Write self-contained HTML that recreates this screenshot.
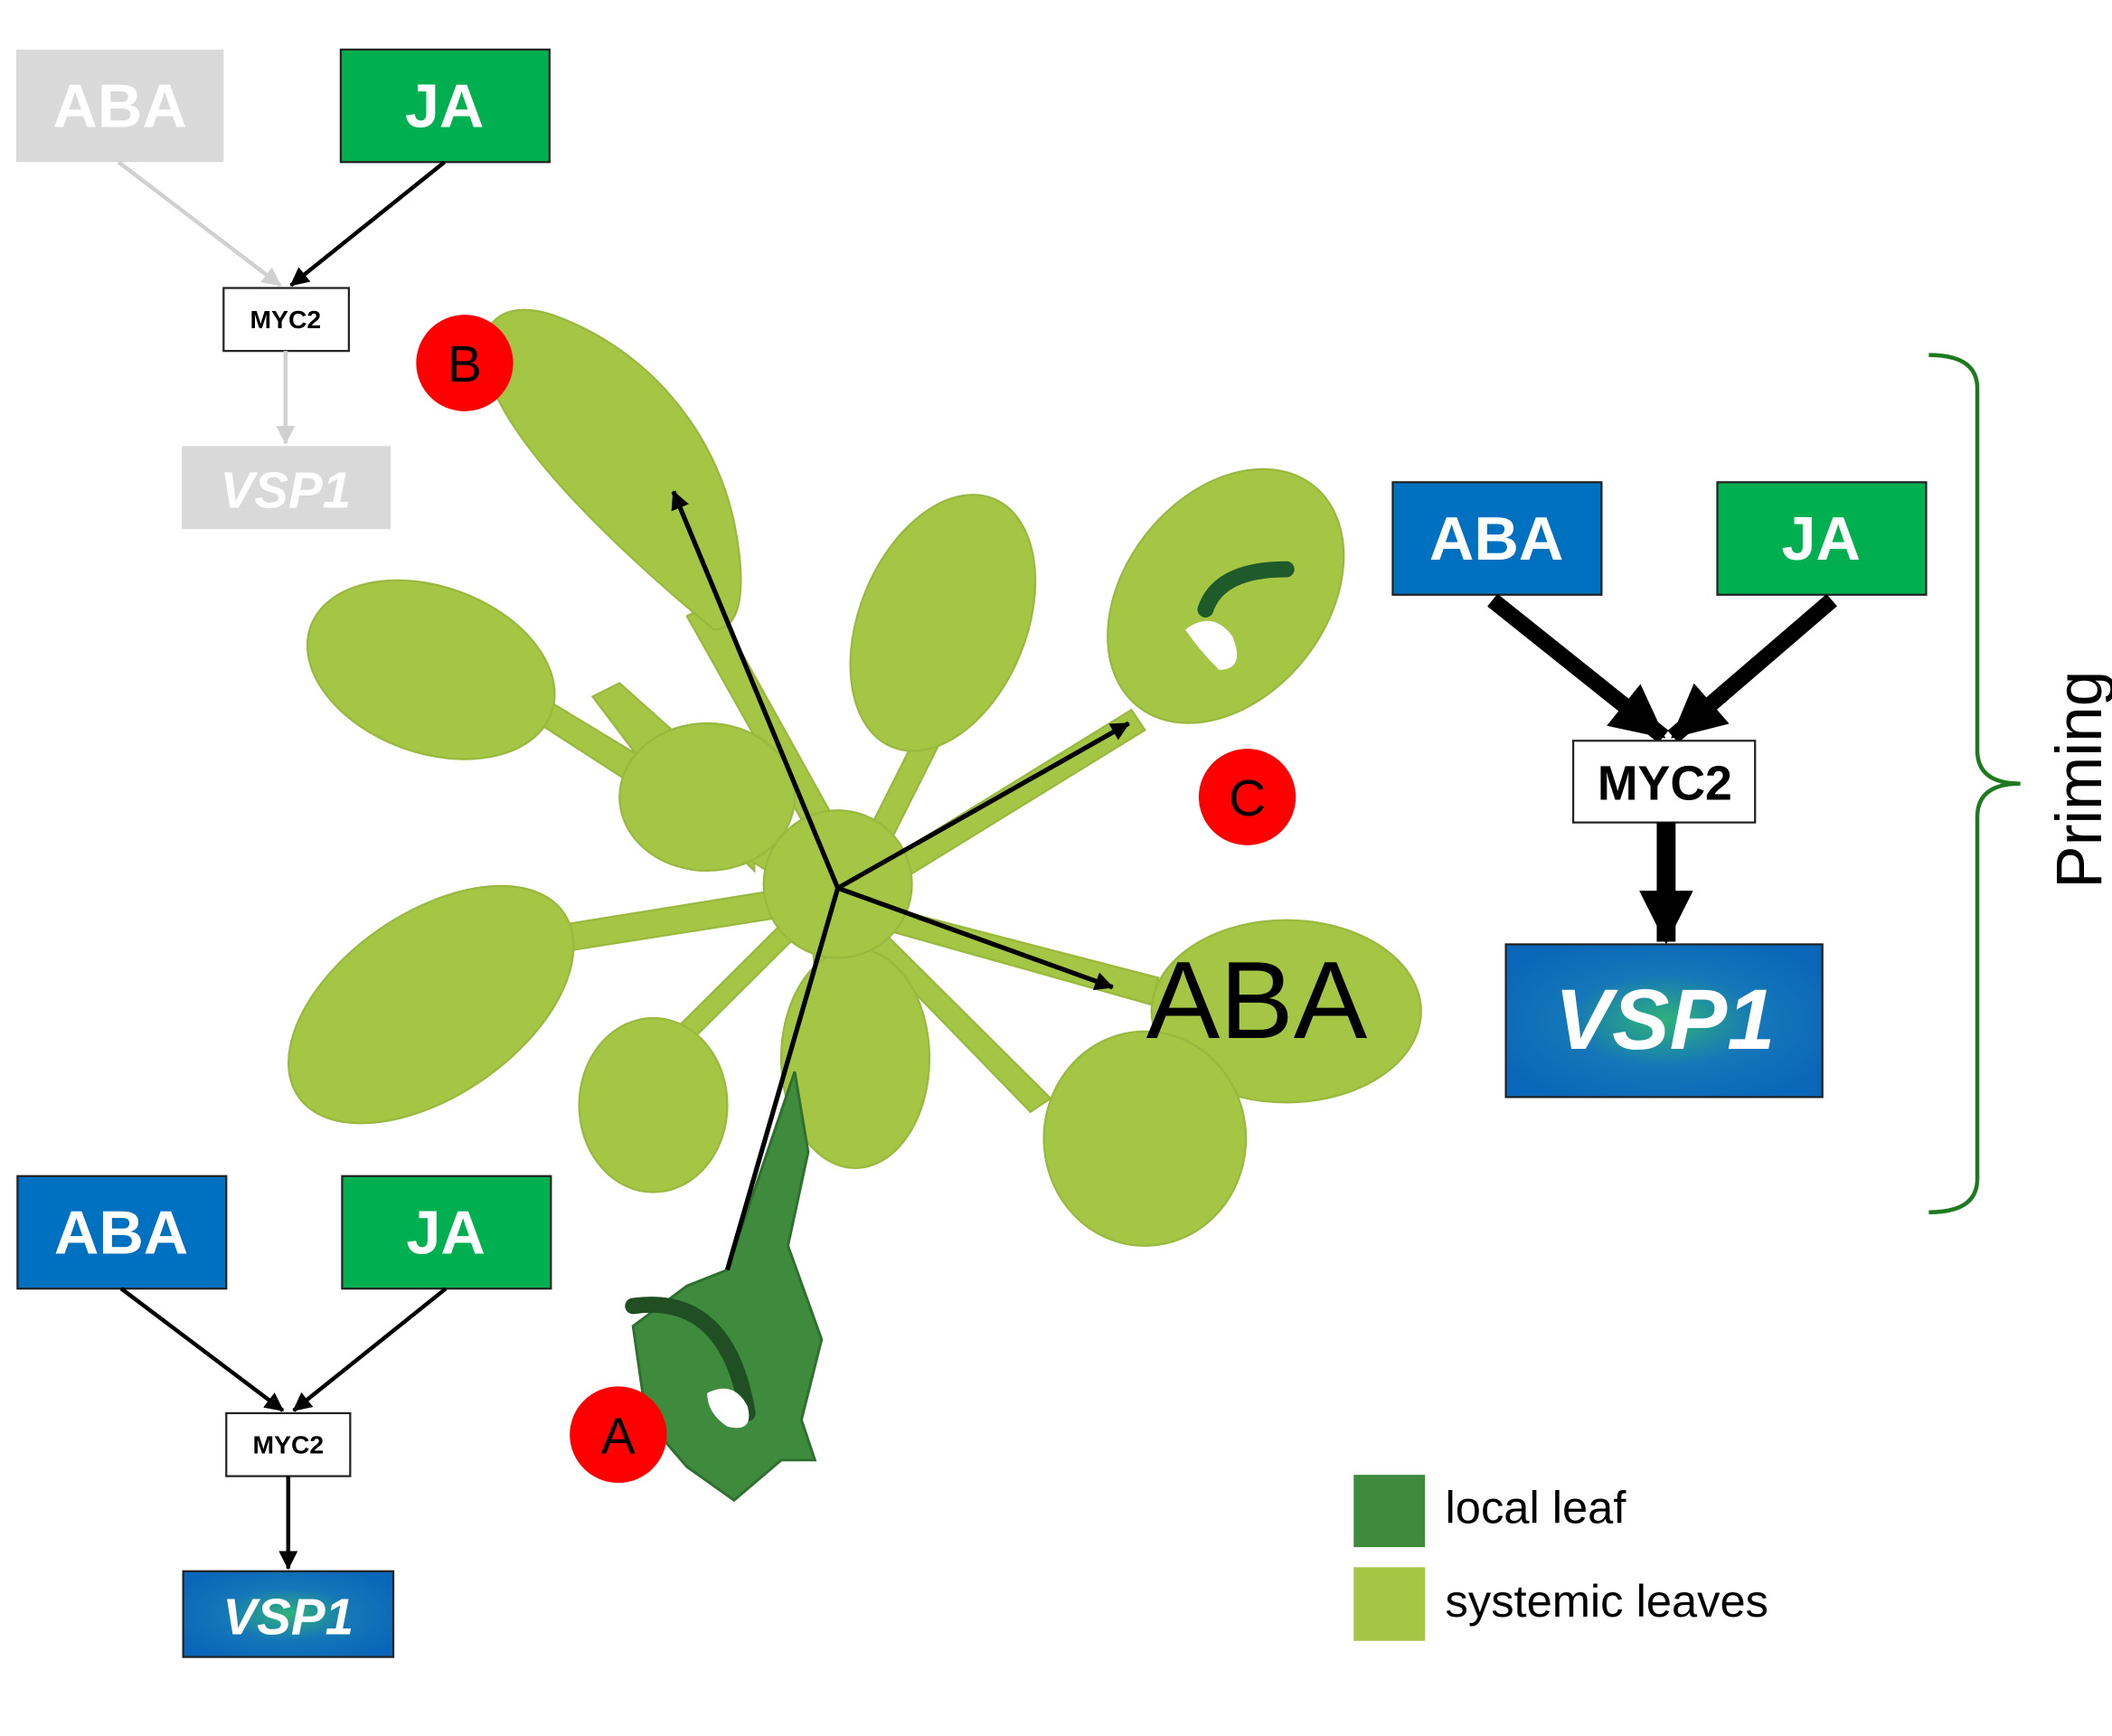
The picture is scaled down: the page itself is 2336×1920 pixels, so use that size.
<!DOCTYPE html>
<html><head><meta charset="utf-8"><style>html,body{margin:0;padding:0;background:#fff}svg{display:block}</style></head>
<body>
<svg width="2336" height="1920" viewBox="0 0 1568 1296" preserveAspectRatio="none" xmlns="http://www.w3.org/2000/svg" font-family="Liberation Sans, sans-serif">
<defs>
<marker id="ahb" markerWidth="14" markerHeight="14" refX="13" refY="7" orient="auto" markerUnits="userSpaceOnUse"><path d="M0,0 L14,7 L0,14 z" fill="#000"/></marker>
<marker id="ahg" markerWidth="14" markerHeight="14" refX="13" refY="7" orient="auto" markerUnits="userSpaceOnUse"><path d="M0,0 L14,7 L0,14 z" fill="#d0d0d0"/></marker>
<marker id="aht" markerWidth="40" markerHeight="40" refX="38" refY="20" orient="auto" markerUnits="userSpaceOnUse"><path d="M0,0 L40,20 L0,40 z" fill="#000"/></marker>
<radialGradient id="vg" cx="50%" cy="50%" r="60%"><stop offset="0" stop-color="#2fb37a"/><stop offset="0.5" stop-color="#1577b8"/><stop offset="1" stop-color="#0a66b8"/></radialGradient>
</defs>

<rect x="12" y="37" width="154" height="84" fill="#d9d9d9"/>
<text x="89" y="95" font-size="46" font-weight="bold" fill="#fff" text-anchor="middle">ABA</text>
<rect x="253" y="37" width="155" height="84" fill="#00b050" stroke="#222" stroke-width="1.5"/>
<text x="330" y="95" font-size="46" font-weight="bold" fill="#fff" text-anchor="middle">JA</text>
<line x1="88" y1="121" x2="208" y2="213" stroke="#d0d0d0" stroke-width="3" marker-end="url(#ahg)"/>
<line x1="330" y1="121" x2="216" y2="213" stroke="#000" stroke-width="3" marker-end="url(#ahb)"/>
<rect x="166" y="215" width="93" height="47" fill="#fff" stroke="#222" stroke-width="1.5"/>
<text x="212" y="245" font-size="19" font-weight="bold" text-anchor="middle">MYC2</text>
<line x1="212" y1="262" x2="212" y2="331" stroke="#d0d0d0" stroke-width="3" marker-end="url(#ahg)"/>
<rect x="135" y="333" width="155" height="62" fill="#d9d9d9"/>
<text x="212" y="379" font-size="38" font-weight="bold" font-style="italic" fill="#fff" text-anchor="middle">VSP1</text>

<rect x="13" y="878" width="155" height="84" fill="#0070c0" stroke="#222" stroke-width="1.5"/>
<text x="90" y="936" font-size="46" font-weight="bold" fill="#fff" text-anchor="middle">ABA</text>
<rect x="254" y="878" width="155" height="84" fill="#00b050" stroke="#222" stroke-width="1.5"/>
<text x="331" y="936" font-size="46" font-weight="bold" fill="#fff" text-anchor="middle">JA</text>
<line x1="90" y1="962" x2="210" y2="1053" stroke="#000" stroke-width="3" marker-end="url(#ahb)"/>
<line x1="331" y1="962" x2="218" y2="1053" stroke="#000" stroke-width="3" marker-end="url(#ahb)"/>
<rect x="168" y="1055" width="92" height="47" fill="#fff" stroke="#222" stroke-width="1.5"/>
<text x="214" y="1085" font-size="19" font-weight="bold" text-anchor="middle">MYC2</text>
<line x1="214" y1="1102" x2="214" y2="1171" stroke="#000" stroke-width="3" marker-end="url(#ahb)"/>
<rect x="136" y="1173" width="156" height="64" fill="url(#vg)" stroke="#222" stroke-width="1.5"/>
<text x="214" y="1220" font-size="38" font-weight="bold" font-style="italic" fill="#fff" text-anchor="middle">VSP1</text>

<g fill="#a5c545" stroke="#98b83e" stroke-width="1.5">
<path d="M560,650 L470,560 L440,520 L460,510 L560,600 Z"/>
<path d="M622,660 L510,460 L530,450 L635,640 Z"/>
<path d="M600,670 L400,540 L410,525 L615,650 Z"/>
<path d="M610,680 L420,710 L420,690 L605,660 Z"/>
<path d="M630,650 L690,530 L705,540 L645,660 Z"/>
<path d="M630,660 L840,530 L850,545 L640,675 Z"/>
<path d="M630,670 L860,730 L855,750 L625,685 Z"/>
<path d="M630,670 L780,820 L765,830 L620,680 Z"/>
<path d="M615,680 L630,760 L610,765 L600,680 Z"/>
<path d="M610,680 L500,790 L490,780 L600,670 Z"/>
<path d="M530,470 C470,420 370,330 360,270 C355,235 380,225 410,235 C480,260 530,320 545,390 C555,440 550,470 530,470 Z"/>
<ellipse cx="320" cy="500" rx="95" ry="62" transform="rotate(20 320 500)"/>
<ellipse cx="320" cy="750" rx="120" ry="68" transform="rotate(-35 320 750)"/>
<ellipse cx="485" cy="825" rx="55" ry="65"/>
<ellipse cx="635" cy="790" rx="55" ry="82"/>
<ellipse cx="700" cy="465" rx="62" ry="100" transform="rotate(22 700 465)"/>
<ellipse cx="910" cy="445" rx="75" ry="105" transform="rotate(38 910 445)"/>
<ellipse cx="955" cy="755" rx="100" ry="68"/>
<ellipse cx="850" cy="850" rx="75" ry="80"/>
<ellipse cx="525" cy="595" rx="65" ry="55"/>
<circle cx="622" cy="660" r="55"/>
</g>
<path d="M895,455 Q905,425 955,425" stroke="#1f5a2a" stroke-width="12" fill="none" stroke-linecap="round"/>
<path d="M880,470 q20,-15 35,5 q10,25 -10,25 q-15,-15 -25,-30z" fill="#fff"/>
<path d="M540,948 L590,800 L600,860 L585,930 L610,1000 L595,1060 L605,1090 L580,1090 L545,1120 L510,1095 L480,1060 L470,990 L510,960 Z" fill="#3e8b3e" stroke="#2f6f2f" stroke-width="2"/>
<path d="M470,975 Q540,965 555,1055" stroke="#1f4f22" stroke-width="12" fill="none" stroke-linecap="round"/>
<path d="M525,1040 q20,-10 30,10 q5,20 -15,15 q-15,-10 -15,-25z" fill="#fff"/>

<g stroke="#000" stroke-width="3.5">
<line x1="622" y1="663" x2="500" y2="367" marker-end="url(#ahb)"/>
<line x1="622" y1="663" x2="838" y2="540" marker-end="url(#ahb)"/>
<line x1="622" y1="663" x2="826" y2="737" marker-end="url(#ahb)"/>
<line x1="540" y1="948" x2="622" y2="663"/>
</g>
<text x="933" y="775" font-size="82" text-anchor="middle" fill="#000">ABA</text>

<g font-size="38" text-anchor="middle">
<circle cx="345" cy="271" r="36" fill="#f00"/><text x="345" y="285">B</text>
<circle cx="926" cy="595" r="36" fill="#f00"/><text x="926" y="609">C</text>
<circle cx="459" cy="1071" r="36" fill="#f00"/><text x="459" y="1085">A</text>
</g>

<rect x="1034" y="360" width="155" height="84" fill="#0070c0" stroke="#222" stroke-width="1.5"/>
<text x="1111" y="418" font-size="46" font-weight="bold" fill="#fff" text-anchor="middle">ABA</text>
<rect x="1275" y="360" width="155" height="84" fill="#00b050" stroke="#222" stroke-width="1.5"/>
<text x="1352" y="418" font-size="46" font-weight="bold" fill="#fff" text-anchor="middle">JA</text>
<line x1="1108" y1="448" x2="1235" y2="550" stroke="#000" stroke-width="12" marker-end="url(#aht)"/>
<line x1="1360" y1="448" x2="1242" y2="550" stroke="#000" stroke-width="12" marker-end="url(#aht)"/>
<rect x="1168" y="553" width="135" height="61" fill="#fff" stroke="#222" stroke-width="1.5"/>
<text x="1236" y="597" font-size="36" font-weight="bold" text-anchor="middle">MYC2</text>
<line x1="1237" y1="614" x2="1237" y2="703" stroke="#000" stroke-width="14" marker-end="url(#aht)"/>
<rect x="1118" y="705" width="235" height="114" fill="url(#vg)" stroke="#222" stroke-width="1.5"/>
<text x="1236" y="783" font-size="64" font-weight="bold" font-style="italic" fill="#fff" text-anchor="middle">VSP1</text>

<path d="M1432,265 Q1468,265 1468,290 L1468,560 Q1468,585 1500,585 Q1468,585 1468,610 L1468,880 Q1468,905 1432,905" fill="none" stroke="#1e7a1e" stroke-width="3"/>
<text transform="translate(1560,582) rotate(-90)" font-size="48" text-anchor="middle">Priming</text>

<rect x="1005" y="1101" width="53" height="54" fill="#3e8b3e"/>
<rect x="1005" y="1170" width="53" height="55" fill="#a5c545"/>
<text x="1073" y="1137" font-size="34">local leaf</text>
<text x="1073" y="1207" font-size="34">systemic leaves</text>
</svg>
</body></html>
